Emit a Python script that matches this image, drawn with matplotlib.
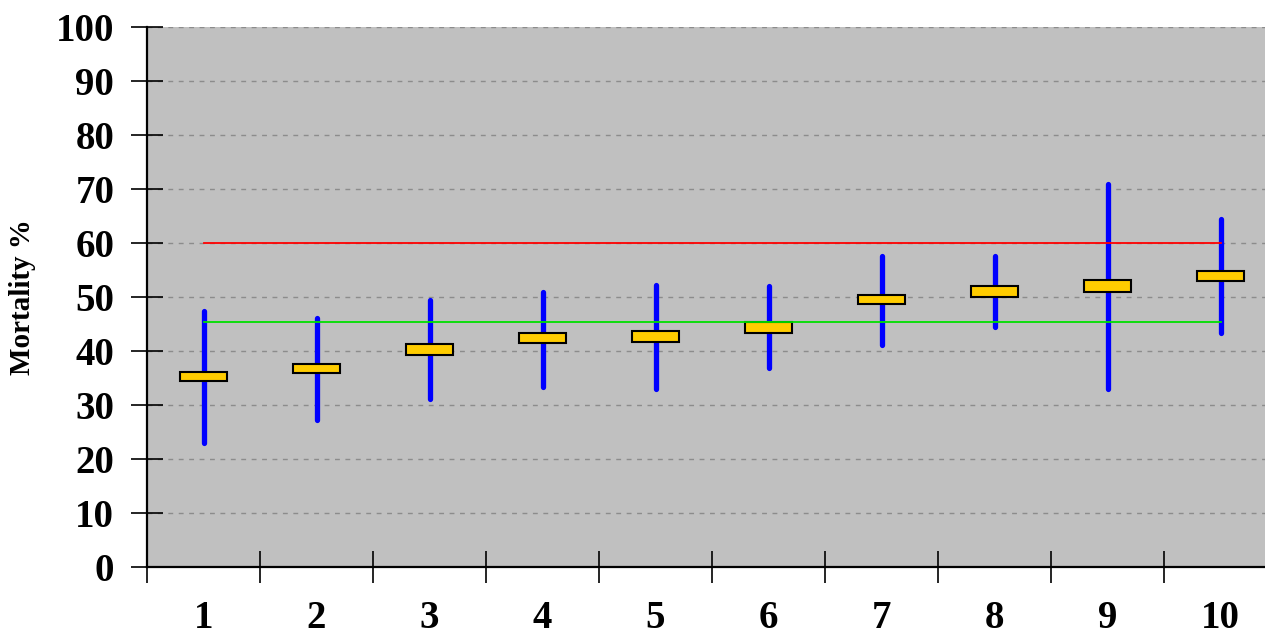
import matplotlib
matplotlib.use("Agg")
import matplotlib.pyplot as plt
import numpy as np

groups = ["1", "2", "3", "4", "5", "6", "7", "8", "9", "10"]
high = [47.4, 46.1, 49.4, 50.9, 52.3, 52.1, 57.6, 57.6, 70.9, 64.4]
low = [23.0, 27.2, 31.1, 33.3, 32.9, 36.8, 41.1, 44.4, 33.0, 43.4]
box_top = [36.1, 37.6, 41.3, 43.3, 43.7, 45.4, 50.4, 52.0, 53.1, 54.9]
box_bottom = [34.4, 35.9, 39.3, 41.5, 41.6, 43.4, 48.7, 50.0, 50.9, 53.0]
upper_ref = 60.0
lower_ref = 45.4
y_ticks = [0, 10, 20, 30, 40, 50, 60, 70, 80, 90, 100]

plt.rcParams["font.family"] = ["Liberation Serif", "DejaVu Serif"]
plt.rcParams["font.weight"] = "bold"

fig = plt.figure(figsize=(12.65, 6.37), dpi=100)
ax = fig.add_axes([147 / 1265, 70 / 637, 1130 / 1265, 540 / 637])
ax.set_facecolor("#C0C0C0")

x = np.arange(1, len(groups) + 1)

# range whiskers
for xi, lo, hi in zip(x, low, high):
    ax.plot([xi, xi], [lo, hi], color="#0000FF", lw=3.8,
            solid_capstyle="round", zorder=3)

# boxes
heights = np.array(box_top) - np.array(box_bottom)
ax.bar(x, heights, bottom=box_bottom, width=0.41, color="#FFCC00",
       edgecolor="black", linewidth=1.5, zorder=4)

# reference levels
ax.plot([x[0], x[-1]], [upper_ref, upper_ref], color="#FF0000", lw=1.3, zorder=5)
ax.plot([x[0], x[-1]], [lower_ref, lower_ref], color="#00E000", lw=1.3, zorder=5)

ax.set_xlim(0.5, len(groups) + 0.5)
ax.set_ylim(0, 100)

ax.set_yticks(y_ticks)
for yv in y_ticks[1:]:
    ax.axhline(yv, color="#8C8C8C", lw=1.0, ls=(0, (3.5, 4)), zorder=1)

ax.set_xticks(x)
ax.set_xticklabels(groups)
ax.set_xticks(np.arange(0.5, len(groups) + 0.5, 1.0), minor=True)
ax.tick_params(axis="x", which="major", length=0, pad=24, labelsize=28)
ax.tick_params(axis="x", which="minor", direction="inout", length=23, width=1.2)
ax.tick_params(axis="y", direction="inout", length=23, width=1.2,
               pad=12, labelsize=28)

for s in ["top", "right"]:
    ax.spines[s].set_visible(False)
ax.spines["left"].set_linewidth(1.6)
ax.spines["bottom"].set_linewidth(1.6)

ax.set_ylabel("Mortality %", fontsize=21, fontweight="bold", labelpad=14)

fig.savefig("out.png", dpi=100)
